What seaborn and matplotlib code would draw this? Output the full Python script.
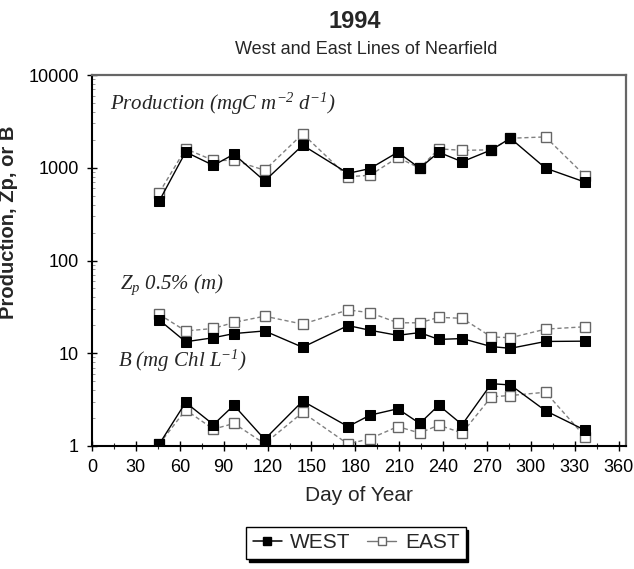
import matplotlib
matplotlib.use("Agg")
import matplotlib.pyplot as plt
from matplotlib.lines import Line2D
from matplotlib.ticker import FixedLocator, NullFormatter, LogLocator
import seaborn as sns
import pandas as pd

# ---------------- data ----------------
days = [46, 64, 83, 97, 118, 144, 175, 190, 209, 224, 237, 253, 273, 286, 310, 337]

prod_west = [440, 1480, 1060, 1400, 720, 1750, 870, 980, 1470, 990, 1470, 1160, 1560, 2080, 990, 700]
prod_east = [540, 1600, 1200, 1200, 940, 2320, 800, 830, 1290, 990, 1600, 1540, 1560, 2080, 2150, 820]

zp_west = [22.8, 13.3, 14.7, 16.3, 17.4, 11.6, 19.9, 17.7, 15.6, 16.7, 14.1, 14.4, 11.8, 11.3, 13.4, 13.5]
zp_east = [26.2, 17.4, 18.5, 21.5, 25.1, 20.6, 29.3, 27.4, 21.3, 21.3, 24.4, 23.8, 15.0, 14.7, 18.2, 19.3]

b_west = [1.05, 2.95, 1.70, 2.75, 1.18, 3.05, 1.62, 2.15, 2.52, 1.75, 2.75, 1.70, 4.70, 4.55, 2.40, 1.48]
b_east = [1.05, 2.45, 1.52, 1.75, 1.06, 2.30, 1.05, 1.20, 1.62, 1.38, 1.68, 1.38, 3.40, 3.50, 3.80, 1.26]

x_ticks = [0, 30, 60, 90, 120, 150, 180, 210, 240, 270, 300, 330, 360]
y_ticks = [1, 10, 100, 1000, 10000]
y_tick_labels = ["1", "10", "100", "1000", "10000"]

title = "1994"
subtitle = "West and East Lines of Nearfield"
x_label = "Day of Year"
y_label = "Production, Zp, or B"
series_names = ["WEST", "EAST"]

# ---------------- style ----------------
sns.set_style("ticks")
plt.rcParams["font.family"] = ["Liberation Sans", "DejaVu Sans"]
plt.rcParams["mathtext.fontset"] = "custom"
plt.rcParams["mathtext.it"] = "Liberation Serif:italic"
plt.rcParams["mathtext.rm"] = "Liberation Serif:italic"
plt.rcParams["mathtext.default"] = "it"

W, H = 634, 569
fig = plt.figure(figsize=(W / 100, H / 100), dpi=100)
ax = fig.add_axes([92 / W, 1 - 446 / H, (626 - 92) / W, (446 - 75) / H])

west_style = dict(color="black", linewidth=1.0, linestyle="-", marker="s",
                  markersize=7.5, markerfacecolor="black", markeredgecolor="black")
east_style = dict(color="#808080", linewidth=1.0, linestyle=(0, (3, 2)), marker="s",
                  markersize=7.5, markerfacecolor="white", markeredgecolor="#666666",
                  markeredgewidth=1.0)

groups = [(prod_west, prod_east), (zp_west, zp_east), (b_west, b_east)]
for west, east in groups:
    df = pd.DataFrame({"day": days, "WEST": west, "EAST": east})
    sns.lineplot(data=df, x="day", y="EAST", ax=ax, estimator=None, **east_style)
    sns.lineplot(data=df, x="day", y="WEST", ax=ax, estimator=None, **west_style)

ax.set_yscale("log")
ax.set_xlim(0, 365)
ax.set_ylim(1, 10000)

ax.xaxis.set_major_locator(FixedLocator(x_ticks))
ax.set_xticklabels([str(t) for t in x_ticks])
ax.xaxis.set_minor_locator(FixedLocator([t + 15 for t in x_ticks[:-1]]))
ax.yaxis.set_major_locator(FixedLocator(y_ticks))
ax.set_yticklabels(y_tick_labels)
ax.yaxis.set_minor_locator(LogLocator(base=10, subs=range(2, 10)))
ax.yaxis.set_minor_formatter(NullFormatter())

ax.tick_params(axis="both", which="major", direction="inout", length=7, width=1,
               labelsize=13, pad=6, colors="black")
ax.tick_params(axis="x", which="minor", direction="inout", length=5, width=0.8)
ax.tick_params(axis="y", which="minor", direction="in", length=2, width=0.6, color="#888888")

for side in ["left", "bottom"]:
    ax.spines[side].set_color("black")
    ax.spines[side].set_linewidth(1.5)
for side in ["top", "right"]:
    ax.spines[side].set_visible(True)
    ax.spines[side].set_color("#666666")
    ax.spines[side].set_linewidth(1.6)

ax.set_xlabel(x_label, fontsize=15, labelpad=7)
ax.set_ylabel(y_label, fontsize=14.5, fontweight="bold")
ax.yaxis.set_label_coords(-0.139, (446 - 222) / (446 - 75))

# in-plot annotations
ax.text(12, 4200, r"Production (mgC m$^{-2}$ d$^{-1}$)", fontsize=15,
        fontstyle="italic", family="Liberation Serif", va="baseline", ha="left")
ax.text(19, 49, r"Z$_{p}$ 0.5% (m)", fontsize=15,
        fontstyle="italic", family="Liberation Serif", va="baseline", ha="left")
ax.text(18, 7.1, r"B (mg Chl L$^{-1}$)", fontsize=15,
        fontstyle="italic", family="Liberation Serif", va="baseline", ha="left")

# titles
fig.text(355 / W, 1 - 21 / H, title, ha="center", va="center", fontsize=17, fontweight="bold")
fig.text(366 / W, 1 - 49 / H, subtitle, ha="center", va="center", fontsize=13)

# legend
handles = [
    Line2D([], [], color="black", linewidth=1.1, marker="s", markersize=6,
           markerfacecolor="black", markeredgecolor="black"),
    Line2D([], [], color="#777777", linewidth=1.0, marker="s", markersize=6,
           markerfacecolor="white", markeredgecolor="#666666"),
]
leg = fig.legend(handles, series_names, loc="center", bbox_to_anchor=(356 / W, 1 - 543 / H),
                 ncol=2, frameon=True, fancybox=False, shadow={"color": "black", "alpha": 1},
                 fontsize=15, handlelength=1.4, handletextpad=0.4, columnspacing=0.8,
                 borderpad=0.3, edgecolor="black")
leg.get_frame().set_linewidth(1.0)

fig.savefig("out.png", dpi=100)
